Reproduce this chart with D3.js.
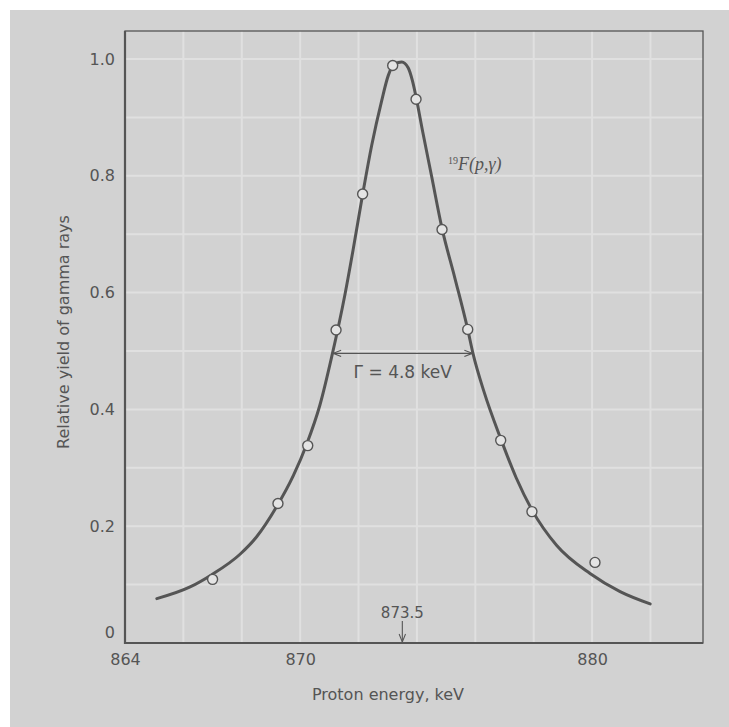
<!DOCTYPE html>
<html>
<head>
<meta charset="utf-8">
<script src="https://cdn.jsdelivr.net/npm/d3@7"></script>
<style>
	html, body { margin: 0; padding: 0; background: #ffffff; }
	svg { display: block; }
</style>
</head>
<body>
<svg id="resonance"></svg>
<script>
var width = 729,
	height = 727;
var margin = ({top: 31, right: 26, bottom: 84, left: 125});
var radius = 5;

// measured points: proton energy (keV) and relative gamma yield
var energy = [867.0, 869.24, 870.26, 871.23, 872.14, 873.17, 873.97, 874.86, 875.74, 876.87, 877.94, 880.1];
var yieldRel = [0.109, 0.239, 0.338, 0.536, 0.769, 0.989, 0.931, 0.708, 0.537, 0.347, 0.225, 0.138];

// fitted resonance curve
var curveE = [865.09, 866.23, 866.97, 867.94, 868.51, 869.20, 869.77, 870.22, 870.68, 871.08, 871.54, 871.82, 872.14, 872.45, 872.79, 873.02, 873.25, 873.48,
	873.70, 873.85, 873.97, 874.20, 874.50, 874.86, 875.30, 875.74, 875.92, 876.30, 876.87, 877.40, 877.94, 878.79, 879.93, 880.96, 881.99];
var curveY = [0.076, 0.096, 0.117, 0.152, 0.182, 0.234, 0.287, 0.340, 0.408, 0.490, 0.598, 0.675, 0.768, 0.852, 0.928, 0.972, 0.992, 0.995,
	0.985, 0.962, 0.935, 0.875, 0.800, 0.710, 0.625, 0.537, 0.496, 0.430, 0.350, 0.283, 0.228, 0.167, 0.119, 0.088, 0.067];

// axis ticks and background graph paper
var xTicks = [864, 870, 880];
var yTicks = [0, 0.2, 0.4, 0.6, 0.8, 1.0];
var gridX = [866, 868, 870, 872, 874, 876, 878, 880, 882];
var gridY = [0.1, 0.2, 0.3, 0.4, 0.5, 0.6, 0.7, 0.8, 0.9, 1.0];

// annotations
var resonanceE = 873.5;
var halfWidth = [871.13, 875.90];
var halfLevel = 0.496;

var ink = '#555555';
var font = "'DejaVu Sans', sans-serif";

var x = d3.scaleLinear()
	.domain([864, 883.8])
	.range([margin.left, width - margin.right]);

var y = d3.scaleLinear()
	.domain([0, 1.048])
	.range([height - margin.bottom, margin.top]);

var svg = d3.select('#resonance')
	.attr('width', width)
	.attr('height', height);

// grey panel behind everything
svg.append('rect')
	.attr('x', 10)
	.attr('y', 10)
	.attr('width', width - 10)
	.attr('height', height - 10)
	.attr('fill', '#d2d2d2');

// graph paper lines
svg.append('g')
	.selectAll('line')
	.data(gridX)
	.join('line')
		.attr('x1', d => x(d))
		.attr('x2', d => x(d))
		.attr('y1', y.range()[1])
		.attr('y2', y.range()[0])
		.attr('stroke', '#e0e0e0')
		.attr('stroke-width', 2);
svg.append('g')
	.selectAll('line')
	.data(gridY)
	.join('line')
		.attr('x1', x.range()[0])
		.attr('x2', x.range()[1])
		.attr('y1', d => y(d))
		.attr('y2', d => y(d))
		.attr('stroke', '#e0e0e0')
		.attr('stroke-width', 2);

// frame: thin top/right, heavier left/bottom
svg.append('rect')
	.attr('x', x.range()[0])
	.attr('y', y.range()[1])
	.attr('width', x.range()[1] - x.range()[0])
	.attr('height', y.range()[0] - y.range()[1])
	.attr('fill', 'none')
	.attr('stroke', ink)
	.attr('stroke-width', 1.3);
svg.append('path')
	.attr('d', 'M' + x.range()[0] + ',' + y.range()[1] + 'V' + y.range()[0] + 'H' + x.range()[1])
	.attr('fill', 'none')
	.attr('stroke', ink)
	.attr('stroke-width', 2.2);

var xAxis = g => g
	.attr('transform', 'translate(0,' + y(0) + ')')
	.call(d3.axisBottom(x).tickValues(xTicks).tickSize(0).tickPadding(11).tickFormat(d3.format('d')))
	.call(g => g.select('.domain').remove())
	.call(g => g.selectAll('.tick text')
		.attr('fill', ink)
		.attr('font-size', 16)
		.attr('font-family', font));

var yAxis = g => g
	.attr('transform', 'translate(' + x.range()[0] + ',0)')
	.call(d3.axisLeft(y).tickValues(yTicks).tickSize(0).tickPadding(10).tickFormat(d => d == 0 ? '0' : d3.format('.1f')(d)))
	.call(g => g.select('.domain').remove())
	.call(g => g.selectAll('.tick text')
		.attr('fill', ink)
		.attr('font-size', 16)
		.attr('font-family', font)
		.attr('dy', d => d == 0 ? '-0.35em' : '0.32em'));

svg.append('g').call(xAxis);
svg.append('g').call(yAxis);

// axis titles
svg.append('text')
	.attr('x', 388)
	.attr('y', 700)
	.attr('text-anchor', 'middle')
	.attr('font-family', font)
	.attr('font-size', 16)
	.attr('fill', ink)
	.text('Proton energy, keV');
svg.append('text')
	.attr('transform', 'translate(69,' + 332 + ') rotate(-90)')
	.attr('text-anchor', 'middle')
	.attr('font-family', font)
	.attr('font-size', 16)
	.attr('fill', ink)
	.text('Relative yield of gamma rays');

// resonance curve
var line = d3.line()
	.x(d => x(d[0]))
	.y(d => y(d[1]))
	.curve(d3.curveMonotoneX);
svg.append('path')
	.attr('d', line(curveE.map((e, i) => [e, curveY[i]])))
	.attr('fill', 'none')
	.attr('stroke', ink)
	.attr('stroke-width', 3)
	.attr('stroke-linecap', 'round');

// data points
svg.append('g')
	.selectAll('circle')
	.data(energy)
	.join('circle')
		.attr('cx', d => x(d))
		.attr('cy', (d, i) => y(yieldRel[i]))
		.attr('r', radius)
		.attr('fill', '#e4e4e4')
		.attr('stroke', ink)
		.attr('stroke-width', 1.4);

// arrow heads
var defs = svg.append('defs');
defs.append('marker')
	.attr('id', 'head')
	.attr('viewBox', '0 0 10 10')
	.attr('refX', 10)
	.attr('refY', 5)
	.attr('markerWidth', 10)
	.attr('markerHeight', 8)
	.attr('markerUnits', 'userSpaceOnUse')
	.attr('orient', 'auto-start-reverse')
	.append('path')
		.attr('d', 'M0,1 L10,5 L0,9')
		.attr('fill', 'none')
		.attr('stroke', ink)
		.attr('stroke-width', 1.3);

// full width at half maximum
svg.append('line')
	.attr('x1', x(halfWidth[0]))
	.attr('x2', x(halfWidth[1]))
	.attr('y1', y(halfLevel))
	.attr('y2', y(halfLevel))
	.attr('stroke', ink)
	.attr('stroke-width', 1.1)
	.attr('marker-start', 'url(#head)')
	.attr('marker-end', 'url(#head)');
svg.append('text')
	.attr('x', (x(halfWidth[0]) + x(halfWidth[1])) / 2)
	.attr('y', y(halfLevel) + 25)
	.attr('text-anchor', 'middle')
	.attr('font-family', font)
	.attr('font-size', 17)
	.attr('fill', ink)
	.text('\u0393 = 4.8 keV');

// reaction label
var react = svg.append('text')
	.attr('x', 448)
	.attr('y', 170)
	.attr('fill', ink)
	.attr('font-family', "'Liberation Serif', serif");
react.append('tspan')
	.attr('font-size', 10)
	.attr('dy', -6)
	.text('19');
react.append('tspan')
	.attr('font-size', 18)
	.attr('font-style', 'italic')
	.attr('dy', 6)
	.text('F(p,\u03b3)');

// resonance energy marker
svg.append('line')
	.attr('x1', x(resonanceE))
	.attr('x2', x(resonanceE))
	.attr('y1', y(0) - 22)
	.attr('y2', y(0) - 1)
	.attr('stroke', ink)
	.attr('stroke-width', 1.1)
	.attr('marker-end', 'url(#head)');
svg.append('text')
	.attr('x', x(resonanceE))
	.attr('y', y(0) - 25)
	.attr('text-anchor', 'middle')
	.attr('font-family', font)
	.attr('font-size', 15)
	.attr('fill', ink)
	.text('873.5');
</script>
</body>
</html>
